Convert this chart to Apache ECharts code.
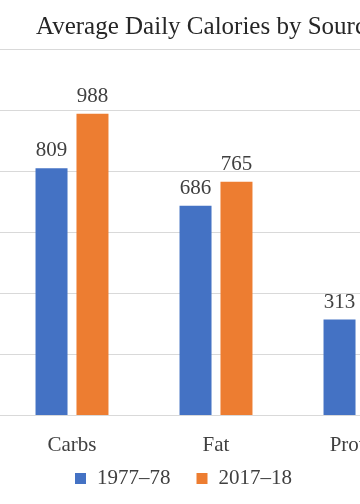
<!DOCTYPE html>
<html><head><meta charset="utf-8">
<script src="https://cdn.jsdelivr.net/npm/echarts@6/dist/echarts.min.js"></script>
<style>html,body{margin:0;padding:0;overflow:hidden;background:#fff;width:360px;height:504px}#c{width:500px;height:504px}</style>
</head><body><div id="c"></div>
<script>
const categories = ['Carbs', 'Fat', 'Protein'];
const series1977 = [809, 686, 313];
const series2017 = [988, 765, 336];
const seriesNames = ['1977–78', '2017–18'];
const titleText = 'Average Daily Calories by Source';

const chart = echarts.init(document.getElementById('c'));
const serif = '"Liberation Serif", "Times New Roman", serif';
chart.setOption({
  animation: false,
  title: { text: titleText, left: 31, top: 10, textStyle: { fontFamily: serif, fontSize: 25, fontWeight: 'normal', color: '#262626' } },
  legend: { left: 75, top: 468, padding: 0, itemWidth: 11, itemHeight: 11, itemGap: 26, icon: 'rect',
    textStyle: { fontFamily: serif, fontSize: 21, color: '#404040', padding: [0,0,0,6] } },
  grid: { left: 0, right: 68, top: 49, bottom: 89, containLabel: false },
  xAxis: { type: 'category', data: categories,
    axisLine: { lineStyle: { color: '#d9d9d9', width: 1 } }, axisTick: { show: false },
    axisLabel: { fontFamily: serif, fontSize: 21, color: '#404040', margin: 20 } },
  yAxis: { type: 'value', min: 0, max: 1200, interval: 200, axisLabel: { show: false },
    axisLine: { show: false }, axisTick: { show: false },
    splitLine: { lineStyle: { color: '#d9d9d9', width: 1 } } },
  series: [
    { name: seriesNames[0], type: 'bar', data: series1977, barWidth: 32, barGap: '28%', itemStyle: { color: '#4472C4' },
      label: { show: true, position: 'top', distance: 7, fontFamily: serif, fontSize: 21, color: '#404040' } },
    { name: seriesNames[1], type: 'bar', data: series2017, barWidth: 32, itemStyle: { color: '#ED7D31' },
      label: { show: true, position: 'top', distance: 7, fontFamily: serif, fontSize: 21, color: '#404040' } }
  ]
});
</script></body></html>
